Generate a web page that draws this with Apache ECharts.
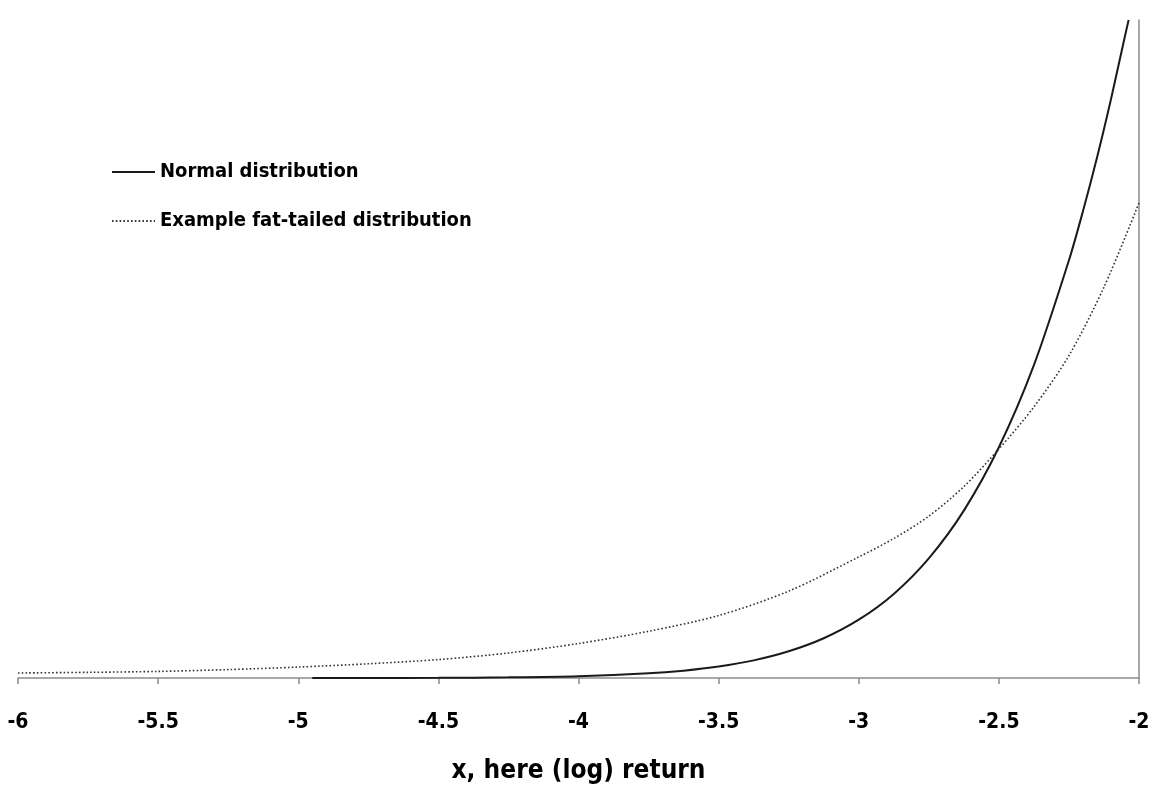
<!DOCTYPE html>
<html>
<head>
<meta charset="utf-8">
<script src="https://cdn.jsdelivr.net/npm/echarts@6/dist/echarts.min.js"></script>
<style>
html,body{margin:0;padding:0;background:#fff;}
#chart{width:1157px;height:785px;}
</style>
</head>
<body>
<div id="chart"></div>
<script>
// x values (log return) and densities
const normalX = [-4.95, -4.75, -4.5, -4.25, -4, -3.75, -3.625, -3.5, -3.375, -3.25, -3.125, -3, -2.875, -2.75, -2.625, -2.5, -2.375, -2.25, -2.2, -2.15, -2.1, -2.05, -2.037];
const normalY = [0.000002, 0.000005, 0.000016, 0.000049, 0.000134, 0.000353, 0.000559, 0.000873, 0.00134, 0.00203, 0.00302, 0.00443, 0.00639, 0.00909, 0.01272, 0.01753, 0.02377, 0.03174, 0.03547, 0.03953, 0.04398, 0.04879, 0.0500];

const fatX = [-6, -5.75, -5.5, -5.25, -5, -4.75, -4.5, -4.25, -4, -3.75, -3.5, -3.25, -3, -2.875, -2.75, -2.625, -2.5, -2.375, -2.25, -2.125, -2];
const fatY = [0.00038, 0.00043, 0.00050, 0.00064, 0.00083, 0.00108, 0.00140, 0.00190, 0.00262, 0.00355, 0.00475, 0.00660, 0.00920, 0.01060, 0.01230, 0.01455, 0.01740, 0.02060, 0.02450, 0.02970, 0.03610];

const xTicks = [-6, -5.5, -5, -4.5, -4, -3.5, -3, -2.5, -2];

const seriesNames = ['Normal distribution', 'Example fat-tailed distribution'];
const axisTitle = 'x, here (log) return';

const FONT = "'DejaVu Sans Condensed', 'DejaVu Sans', sans-serif";

const chart = echarts.init(document.getElementById('chart'), null, {renderer: 'canvas'});
chart.setOption({
  animation: false,
  backgroundColor: '#ffffff',
  grid: {left: 18, right: 18, top: 20, bottom: 107, containLabel: false, outerBoundsMode: 'none'},
  legend: {
    orient: 'vertical',
    left: 106,
    top: 155,
    itemWidth: 43,
    itemHeight: 14,
    itemGap: 25,
    data: seriesNames,
    itemStyle: {opacity: 0},
    textStyle: {fontFamily: FONT, fontWeight: 'bold', fontSize: 20, color: '#000', lineHeight: 24}
  },
  xAxis: {
    type: 'value',
    min: -6,
    max: -2,
    interval: 0.5,
    name: axisTitle,
    nameLocation: 'middle',
    nameGap: 80,
    nameTextStyle: {fontFamily: FONT, fontWeight: 'bold', fontSize: 26, color: '#000'},
    axisLine: {show: true, onZero: false, lineStyle: {color: '#8c8c8c', width: 1.5}},
    axisTick: {show: true, inside: false, length: 6, lineStyle: {color: '#8c8c8c', width: 1.5}},
    splitLine: {show: false},
    axisLabel: {
      margin: 34,
      fontFamily: FONT, fontWeight: 'bold', fontSize: 21, color: '#000',
      formatter: function (v) {
        const t = xTicks.find(function (k) { return Math.abs(k - v) < 1e-9; });
        return t === undefined ? '' : String(t);
      }
    }
  },
  yAxis: {
    type: 'value',
    position: 'right',
    min: 0,
    max: 0.05,
    axisLine: {show: true, onZero: false, lineStyle: {color: '#8c8c8c', width: 1.5}},
    axisTick: {show: false},
    axisLabel: {show: false},
    splitLine: {show: false}
  },
  series: [
    {
      name: seriesNames[0],
      type: 'line',
      data: normalX.map(function (x, i) { return [x, normalY[i]]; }),
      smooth: 0.3,
      symbol: 'none',
      clip: true,
      lineStyle: {color: '#1a1a1a', width: 2, type: 'solid'},
      itemStyle: {color: '#1a1a1a'}
    },
    {
      name: seriesNames[1],
      type: 'line',
      data: fatX.map(function (x, i) { return [x, fatY[i]]; }),
      smooth: 0.3,
      symbol: 'none',
      clip: true,
      lineStyle: {color: '#333333', width: 1.6, type: [1.6, 2.2]},
      itemStyle: {color: '#333333'}
    }
  ]
});
</script>
</body>
</html>
